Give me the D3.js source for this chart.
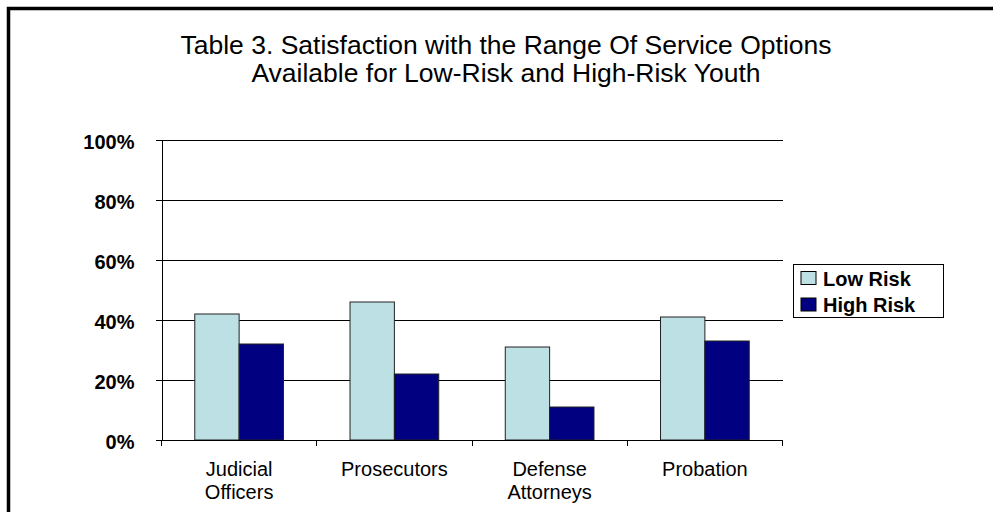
<!DOCTYPE html>
<html>
<head>
<meta charset="utf-8">
<script src="https://cdn.jsdelivr.net/npm/d3@7"></script>
<style>
  html, body { margin: 0; padding: 0; background: #fff; }
  svg { display: block; font-family: "Liberation Sans", Arial, sans-serif; }
</style>
</head>
<body>
<svg id="chart" width="993" height="512"></svg>
<script>
const titleLines = ["Table 3. Satisfaction with the Range Of Service Options",
                    "Available for Low-Risk and High-Risk Youth"];
const categories = ["Judicial Officers", "Prosecutors", "Defense Attorneys", "Probation"];
const categoryLabelLines = [["Judicial", "Officers"], ["Prosecutors"], ["Defense", "Attorneys"], ["Probation"]];
const seriesNames = ["Low Risk", "High Risk"];
const lowRisk = [42, 46, 31, 41];
const highRisk = [32, 22, 11, 33];
const seriesColors = ["#BCE0E3", "#000080"];
const yTicks = [0, 20, 40, 60, 80, 100];

const svg = d3.select("#chart");
const W = 993, H = 512;

// outer frame (only top & left visible)
svg.append("rect").attr("x", 8.5).attr("y", 8.5).attr("width", W + 20).attr("height", H + 20)
  .attr("fill", "#fff").attr("stroke", "#000").attr("stroke-width", 3.5);

// title
const titleX = 506;
svg.append("text").attr("x", titleX).attr("y", 54).attr("text-anchor", "middle")
  .attr("font-size", 26.5).attr("fill", "#000")
  .selectAll("tspan").data(titleLines).join("tspan")
  .attr("x", titleX).attr("dy", (d, i) => i === 0 ? 0 : 28).text(d => d);

const plot = { left: 161.5, right: 782.5, top: 140, bottom: 440 };

const y = d3.scaleLinear().domain([0, 100]).range([plot.bottom, plot.top]);
const x = d3.scaleBand().domain(categories).range([plot.left, plot.right]).paddingInner(0).paddingOuter(0);
const x1 = d3.scaleBand().domain(seriesNames).range([0, x.bandwidth()]).paddingInner(0).paddingOuter(0.75);

// gridlines
const grid = svg.append("g").attr("transform", `translate(${plot.left},0)`)
  .call(d3.axisLeft(y).tickValues(yTicks.filter(t => t > 0)).tickSize(-(plot.right - plot.left)).tickFormat(""));
grid.select(".domain").remove();
grid.selectAll("line").attr("stroke", "#000").attr("stroke-width", 1).attr("shape-rendering", "crispEdges");

// y axis
const yAxis = svg.append("g").attr("transform", `translate(${plot.left},0)`)
  .call(d3.axisLeft(y).tickValues(yTicks).tickSize(6).tickSizeOuter(0).tickPadding(21).tickFormat(d => d + "%"));
yAxis.select(".domain").attr("stroke", "#000").attr("shape-rendering", "crispEdges");
yAxis.selectAll("line").attr("stroke", "#000").attr("shape-rendering", "crispEdges");
yAxis.selectAll("text").attr("font-size", 20).attr("font-weight", "bold").attr("fill", "#000")
  .attr("dy", "0.4em")
  .attr("font-family", "'Liberation Sans', Arial, sans-serif");

// bars
const data = categories.map((c, i) => ({ cat: c, vals: [lowRisk[i], highRisk[i]] }));
const groups = svg.append("g").selectAll("g").data(data).join("g")
  .attr("transform", d => `translate(${x(d.cat)},0)`);
groups.selectAll("rect").data(d => d.vals.map((v, j) => ({ s: seriesNames[j], v, j })))
  .join("rect")
  .attr("x", d => x1(d.s)).attr("width", x1.bandwidth())
  .attr("y", d => y(d.v)).attr("height", d => y(0) - y(d.v))
  .attr("fill", d => seriesColors[d.j]).attr("stroke", "#222").attr("stroke-width", 1);

// x axis
const xAxis = svg.append("g").attr("transform", `translate(0,${plot.bottom})`);
xAxis.append("line").attr("x1", plot.left - 6).attr("x2", plot.right).attr("y1", 0).attr("y2", 0)
  .attr("stroke", "#000").attr("shape-rendering", "crispEdges");
const boundaries = categories.map(c => x(c)).concat([plot.right]);
xAxis.selectAll("line.tick").data(boundaries).join("line").attr("class", "tick")
  .attr("x1", d => d).attr("x2", d => d).attr("y1", 0).attr("y2", 6)
  .attr("stroke", "#000").attr("shape-rendering", "crispEdges");
xAxis.selectAll("text.cat").data(categories).join("text").attr("class", "cat")
  .attr("text-anchor", "middle").attr("font-size", 20).attr("fill", "#000")
  .attr("y", 36)
  .each(function (d, i) {
    d3.select(this).selectAll("tspan").data(categoryLabelLines[i]).join("tspan")
      .attr("x", x(d) + x.bandwidth() / 2).attr("dy", (t, k) => k === 0 ? 0 : 23).text(t => t);
  });

// legend
const legend = svg.append("g");
legend.append("rect").attr("x", 793.5).attr("y", 264.5).attr("width", 150).attr("height", 53)
  .attr("fill", "#fff").attr("stroke", "#000").attr("stroke-width", 1);
const items = legend.selectAll("g.item").data(seriesNames).join("g").attr("class", "item")
  .attr("transform", (d, i) => `translate(801,${271.5 + i * 26.5})`);
items.append("rect").attr("width", 15).attr("height", 13)
  .attr("fill", (d, i) => seriesColors[i]).attr("stroke", "#000").attr("stroke-width", 1);
items.append("text").attr("x", 22).attr("y", 14).attr("font-size", 20).attr("font-weight", "bold")
  .attr("fill", "#000").text(d => d);
</script>
</body>
</html>
